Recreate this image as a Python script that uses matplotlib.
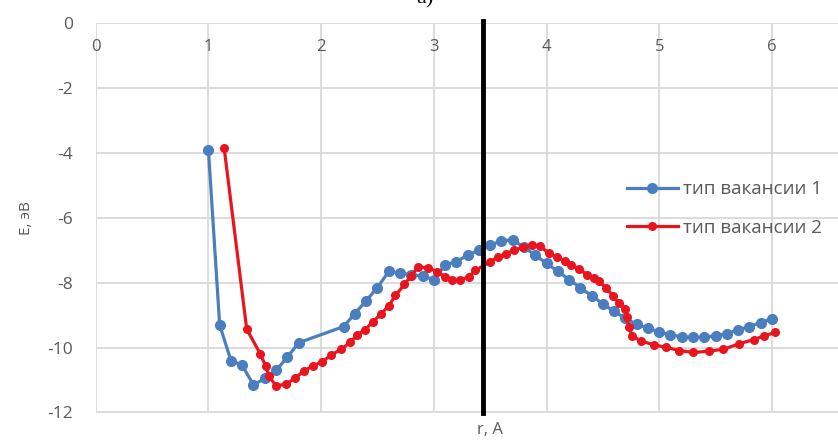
import matplotlib
matplotlib.use("Agg")
import matplotlib.pyplot as plt

# series 1 (blue)
r1 = [1.0, 1.1, 1.2, 1.3, 1.4, 1.5, 1.6, 1.7, 1.8,
      2.2, 2.3, 2.4, 2.5, 2.6, 2.7, 2.8, 2.9, 3.0,
      3.1, 3.2, 3.3, 3.4, 3.5, 3.6, 3.7, 3.8, 3.9, 4.0,
      4.1, 4.2, 4.3, 4.4, 4.5, 4.6, 4.7, 4.8, 4.9, 5.0,
      5.1, 5.2, 5.3, 5.4, 5.5, 5.6, 5.7, 5.8, 5.9, 6.0]
e1 = [-3.9, -9.3, -10.4, -10.55, -11.15, -10.95, -10.7, -10.3, -9.85,
      -9.35, -8.95, -8.55, -8.15, -7.65, -7.7, -7.75, -7.8, -7.9,
      -7.45, -7.35, -7.15, -7.0, -6.85, -6.7, -6.68, -6.9, -7.15, -7.4,
      -7.65, -7.9, -8.15, -8.4, -8.65, -8.88, -9.1, -9.28, -9.4, -9.52,
      -9.6, -9.67, -9.68, -9.68, -9.63, -9.57, -9.45, -9.35, -9.23, -9.11]

# series 2 (red)
r2 = [1.14, 1.34, 1.46, 1.51, 1.54, 1.60, 1.69, 1.77, 1.85, 1.93,
      2.01, 2.09, 2.18, 2.26, 2.32, 2.39, 2.46, 2.53, 2.60, 2.66,
      2.74, 2.80, 2.86, 2.95, 3.03, 3.10, 3.16, 3.23, 3.31, 3.37,
      3.50, 3.57, 3.64, 3.71, 3.79, 3.87, 3.94, 4.02, 4.09, 4.16,
      4.22, 4.29, 4.36, 4.42, 4.47, 4.53, 4.59, 4.64, 4.70, 4.71,
      4.73, 4.76, 4.84, 4.95, 5.06, 5.18, 5.30, 5.44, 5.57, 5.71,
      5.84, 5.93, 6.03]
e2 = [-3.85, -9.43, -10.19, -10.58, -10.89, -11.18, -11.12, -10.94, -10.71, -10.56,
      -10.43, -10.23, -10.04, -9.84, -9.6, -9.45, -9.2, -8.97, -8.71, -8.39,
      -8.05, -7.78, -7.52, -7.53, -7.66, -7.81, -7.9, -7.92, -7.82, -7.62,
      -7.35, -7.21, -7.1, -7.0, -6.91, -6.85, -6.87, -7.08, -7.2, -7.33,
      -7.44, -7.58, -7.75, -7.86, -7.96, -8.17, -8.4, -8.62, -8.8, -9.06,
      -9.35, -9.64, -9.8, -9.91, -9.99, -10.09, -10.15, -10.11, -10.05, -9.88,
      -9.75, -9.64, -9.53]

labels = ["тип вакансии 1", "тип вакансии 2"]
x_ticks = [0, 1, 2, 3, 4, 5, 6]
y_ticks = [0, -2, -4, -6, -8, -10, -12]
r_mark = 3.44  # vertical marker line

plt.rcParams['font.family'] = ['Open Sans', 'DejaVu Sans']
plt.rcParams['axes.unicode_minus'] = False
gray = '#595959'

W, H = 838, 441
fig = plt.figure(figsize=(W / 100, H / 100), dpi=100)
# plot area runs past the right edge (x axis goes to 7, image is cropped)
left, top, bottom = 95.7, 23.3, 412.5
ax = fig.add_axes([left / W, 1 - bottom / H, 7 * 112.7 / W, (bottom - top) / H])

ax.plot(r1, e1, color='#4a7ebf', lw=2.3, marker='o', ms=7, label=labels[0], zorder=3)
ax.plot(r2, e2, color='#e8141e', lw=2.3, marker='o', ms=5.5, label=labels[1], zorder=4)
ax.axvline(r_mark, color='black', lw=3.5, zorder=5, ymax=1.005, clip_on=False)

ax.set_xlim(0, 7)
ax.set_ylim(-12, 0)
ax.set_xticks(x_ticks)
ax.set_yticks(y_ticks)
ax.grid(True, color='#d9d9d9', lw=1.3)
ax.axvline(7, color='#d9d9d9', lw=1.3, zorder=0)
ax.set_axisbelow(True)
for s in ax.spines.values():
    s.set_visible(False)

ax.tick_params(axis='x', bottom=False, labelbottom=False, top=False, labeltop=True,
               pad=-26, labelsize=12, labelcolor=gray)
ax.tick_params(axis='y', length=0, pad=16, labelsize=12.5, labelcolor=gray)

ax.set_xlabel("r, A", fontsize=12, color=gray, labelpad=7)
ax.set_ylabel("E, эВ", fontsize=11, color=gray, labelpad=10)

fig.text(425 / W, 1 - 3.5 / H, "а)", fontsize=16, family='Liberation Serif',
         ha='center', va='baseline')

ax.legend(loc='center left', bbox_to_anchor=(627 / W, 1 - 208.5 / H),
          bbox_transform=fig.transFigure, frameon=False, fontsize=13.5,
          labelcolor=gray, handlelength=2.7, handletextpad=0.3,
          labelspacing=1.1, borderpad=0, borderaxespad=0)

fig.savefig('out.png', dpi=100)
